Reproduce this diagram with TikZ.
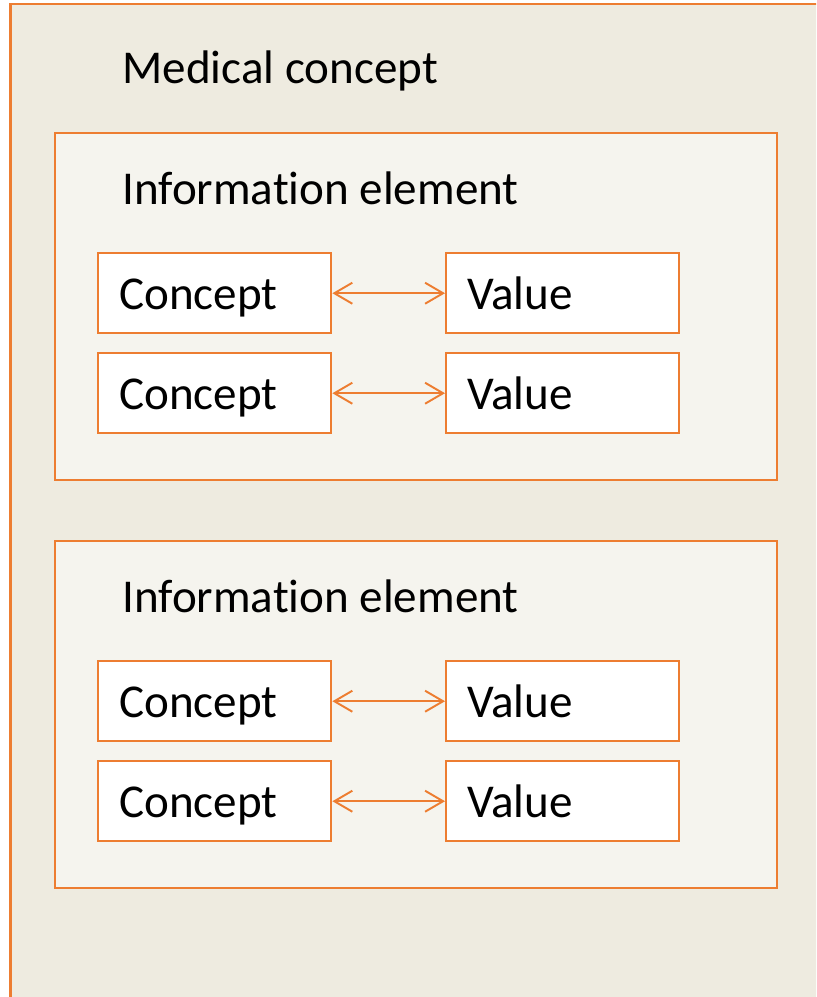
\documentclass[tikz,border=0pt]{standalone}
\usepackage{fontspec}
\setmainfont{Carlito}[Ligatures=NoCommon]
\usetikzlibrary{arrows.meta,positioning}
\definecolor{mcorange}{HTML}{ED7D31}
\definecolor{mcouter}{HTML}{EEEBE0}
\definecolor{mcinner}{HTML}{F5F4EE}
\tikzset{
  frame/.style = {draw=mcorange, line width=1.4pt},
  title/.style = {anchor=base west, inner sep=0pt,
                  font=\fontsize{26.8}{32}\selectfont},
  cell/.style  = {draw=mcorange, line width=1.4pt, fill=white,
                  anchor=north west, inner xsep=0.42cm, inner ysep=0pt,
                  text width=3.82cm, align=left, text height=1.12cm,
                  text depth=0.48cm, font=\fontsize{26.8}{32}\selectfont},
  link/.style  = {{Straight Barb[length=3.6mm,width=4.2mm]}-{Straight Barb[length=3.6mm,width=4.2mm]},
                  draw=mcorange, line width=1.1pt},
}
\begin{document}
\begin{tikzpicture}[x=0.02cm,y=-0.02cm]
\clip (0,0) rectangle (816,997);
% medical concept
\draw[frame,fill=mcouter] (10.5,4) rectangle (840,1020);
\node[title] (mc) at (122,83.5) {Medical concept};
% information elements
\foreach \ie/\oy in {1/0,2/408}{
  \draw[frame,fill=mcinner] (55,133+\oy) rectangle (777,480+\oy);
  \node[title] (ie\ie) at (122,204+\oy) {Informat\kern0pt ion element};
  \foreach \r/\ry in {1/0,2/100}{
    \node[cell] (c\ie\r) at (97,252+\oy+\ry) {Concept};
    \node[cell] (v\ie\r) at (445,252+\oy+\ry) {Value};
    \draw[link] (c\ie\r.east) -- (v\ie\r.west);
  }
}
\end{tikzpicture}
\end{document}
